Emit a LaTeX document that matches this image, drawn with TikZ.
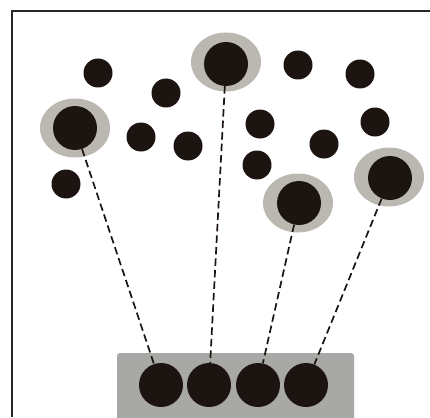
\documentclass[tikz,border=0pt]{standalone}
\usetikzlibrary{shapes.geometric}
\definecolor{inkdot}{HTML}{1C1410}
\definecolor{halogray}{HTML}{BAB8B1}
\definecolor{boxgray}{HTML}{A8A8A6}
\begin{document}
\begin{tikzpicture}[
  x=1pt, y=-1pt,
  dot/.style={circle, inner sep=0pt, minimum size=29pt, fill=inkdot},
  bigdot/.style={circle, inner sep=0pt, minimum size=44pt, fill=inkdot},
  halo/.style={ellipse, inner sep=0pt, minimum width=70pt, minimum height=59pt, fill=halogray},
  link/.style={line width=1.7pt, dash pattern=on 7.5pt off 4pt, inkdot}
]
  \useasboundingbox (0,0) rectangle (430,417);
  % cadre
  \draw[line width=1.3pt, black!85] (12,417) -- (12,11) -- (430,11);
  % boite du bas
  \fill[boxgray, rounded corners=3pt] (117,353) rectangle (354,425);
  % points libres
  \node[dot] (p1)  at (98,73)   {};
  \node[dot] (p2)  at (166,93)  {};
  \node[dot] (p3)  at (141,137) {};
  \node[dot] (p4)  at (188,146) {};
  \node[dot] (p5)  at (66,184)  {};
  \node[dot] (p6)  at (298,65)  {};
  \node[dot] (p7)  at (360,74)  {};
  \node[dot] (p8)  at (260,124) {};
  \node[dot] (p9)  at (257,165) {};
  \node[dot] (p10) at (324,144) {};
  \node[dot] (p11) at (375,122) {};
  % points choisis
  \node[halo]   (hA) at (75,128)  {};
  \node[bigdot] (sA) at (75,128)  {};
  \node[halo]   (hB) at (226,62)  {};
  \node[bigdot] (sB) at (226,64)  {};
  \node[halo]   (hC) at (298,203) {};
  \node[bigdot] (sC) at (299,203) {};
  \node[halo]   (hD) at (389,177) {};
  \node[bigdot] (sD) at (390,178) {};
  % points dans la boite
  \node[bigdot] (b1) at (161,385) {};
  \node[bigdot] (b2) at (209,385) {};
  \node[bigdot] (b3) at (258,385) {};
  \node[bigdot] (b4) at (306,385) {};
  % liens
  \draw[link] (sA) -- (b1);
  \draw[link] (sB) -- (b2);
  \draw[link] (sC) -- (b3);
  \draw[link] (sD) -- (b4);
\end{tikzpicture}
\end{document}
